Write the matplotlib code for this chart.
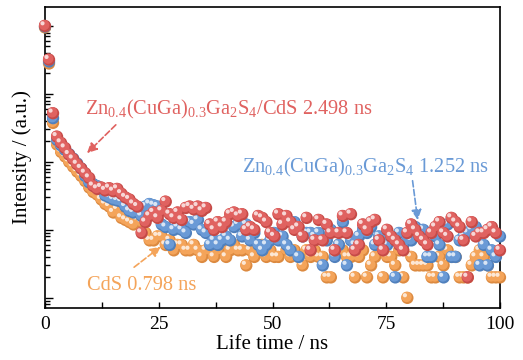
import numpy as np
import matplotlib
matplotlib.use('Agg')
import matplotlib.pyplot as plt
from matplotlib import transforms
from matplotlib.ticker import LogLocator, MultipleLocator, NullFormatter

plt.rcParams['font.family'] = ['Liberation Serif', 'DejaVu Serif']
plt.rcParams['mathtext.fontset'] = 'custom'
plt.rcParams['mathtext.rm'] = 'Liberation Serif'
plt.rcParams['mathtext.it'] = 'Liberation Serif:italic'

# 时间轴 (ns)
time_ns = np.linspace(0, 100, 114)

# 荧光衰减计数
red_counts = [10000, 3200, 520, 235, 190, 160, 128, 110, 92, 80,
              68, 58, 44, 40, 42, 38, 41, 37, 40, 34,
              30, 28, 24, 22, 9, 13, 16, 18, 15, 19,
              26, 17, 15, 18, 14, 21, 22, 20, 22, 19,
              21, 12, 10, 13, 11, 13, 17, 18, 16, 17,
              10, 11, 10, 16, 15, 13, 9, 8, 17, 12,
              16, 13, 10, 11, 8, 15, 5, 7, 14, 7,
              12, 9, 5, 9, 16, 9, 17, 5, 6, 12,
              10, 13, 14, 7, 5, 10, 8, 7, 6, 5,
              9, 12, 10, 8, 7, 6, 9, 11, 13, 9,
              8, 15, 13, 11, 7, 2, 13, 8, 9, 9,
              10, 11, 9, 5]
blue_counts = [9800, 3000, 440, 210, 175, 150, 130, 112, 95, 80,
               62, 50, 47, 44, 40, 32, 30, 28, 27, 26,
               22, 19, 18, 20, 16, 22, 24, 23, 22, 12,
               11, 6, 10, 11, 10, 9, 13, 12, 14, 10,
               9, 6, 7, 6, 7, 8, 7, 11, 12, 8,
               12, 7, 9, 6, 5, 6, 7, 9, 7, 8,
               6, 5, 13, 4, 8, 9, 9, 8, 9, 3,
               7, 10, 4, 6, 13, 3, 7, 6, 8, 10,
               9, 11, 6, 8, 7, 6, 7, 2, 9, 6,
               8, 7, 11, 9, 10, 4, 4, 8, 6, 2,
               12, 4, 4, 7, 8, 9, 10, 11, 3, 6,
               3, 5, 4, 8]
orange_counts = [9500, 2800, 375, 180, 140, 120, 100, 85, 72, 62,
                 52, 42, 36, 33, 28, 24, 22, 18, 20, 15,
                 14, 13, 12, 14, 13, 9, 7, 7, 8, 8,
                 6, 7, 5, 6, 6, 5, 5, 6, 5, 4,
                 5, 5, 4, 5, 6, 4, 5, 6, 5, 5,
                 3, 5, 4, 5, 6, 4, 5, 4, 4, 7,
                 5, 4, 5, 4, 3, 5, 4, 5, 4, 4,
                 2, 2, 5, 6, 5, 4, 4, 2, 4, 5,
                 2, 3, 4, 5, 2, 4, 4, 3, 5, 2,
                 1, 4, 3, 3, 3, 3, 2, 2, 4, 3,
                 5, 4, 4, 2, 2, 2, 3, 4, 5, 4,
                 3, 2, 2, 2]

red = '#E06260'
blue = '#6A9AD6'
orange = '#F4A45A'
series = [(orange_counts, orange, '#DC8A40'),
          (blue_counts, blue, '#5080BC'),
          (red_counts, red, '#C54A47')]

fig = plt.figure(figsize=(5.23, 3.6), dpi=100)
ax = fig.add_axes([45 / 523, 1 - 308 / 360, 455 / 523, 301 / 360])

# 球形标记: 暗色底 + 主色 + 高光
shift_mid = transforms.offset_copy(ax.transData, fig=fig, x=-0.6, y=0.7, units='points')
shift_hi = transforms.offset_copy(ax.transData, fig=fig, x=-1.8, y=1.9, units='points')
for counts, c, dark in series:
    ax.scatter(time_ns, counts, s=78, color=dark, edgecolors='none', clip_on=False, zorder=3)
    ax.scatter(time_ns, counts, s=56, color=c, edgecolors='none', clip_on=False, zorder=3,
               transform=shift_mid)
    ax.scatter(time_ns, counts, s=9, color='white', alpha=0.75, edgecolors='none', clip_on=False,
               zorder=3, transform=shift_hi)

ax.set_yscale('log')
ax.set_xlim(0, 100)
ax.set_ylim(0.71, 1.9e4)
ax.xaxis.set_major_locator(MultipleLocator(25))
ax.xaxis.set_minor_locator(MultipleLocator(12.5))
ax.yaxis.set_major_locator(LogLocator(base=10, numticks=10))
ax.yaxis.set_minor_locator(LogLocator(base=10, subs=np.arange(2, 10), numticks=20))
ax.yaxis.set_major_formatter(NullFormatter())
ax.yaxis.set_minor_formatter(NullFormatter())
ax.tick_params(axis='x', which='both', direction='in', length=4, width=1, labelsize=14, pad=6)
ax.tick_params(axis='y', which='major', direction='in', length=6, width=1)
ax.tick_params(axis='y', which='minor', direction='in', length=3.5, width=1)
for sp in ax.spines.values():
    sp.set_linewidth(1.2)

ax.set_xlabel('Life time / ns', fontsize=15, labelpad=1)
ax.set_ylabel('Intensity / (a.u.)', fontsize=15, labelpad=6)

# 标注
ax.text(8.8, 491, r'Zn$_{\mathrm{0.4}}$(CuGa)$_{\mathrm{0.3}}$Ga$_{\mathrm{2}}$S$_{\mathrm{4}}$/CdS 2.498 ns',
        color=red, fontsize=14.7, ha='left', va='baseline')
ax.text(43.3, 71, r'Zn$_{\mathrm{0.4}}$(CuGa)$_{\mathrm{0.3}}$Ga$_{\mathrm{2}}$S$_{\mathrm{4}}$ 1.252 ns',
        color=blue, fontsize=14.7, ha='left', va='baseline')
ax.text(9.2, 1.31, 'CdS 0.798 ns', color=orange, fontsize=14.7, ha='left', va='baseline')

arrow_kw = dict(arrowstyle='-|>', linestyle='--', lw=1.2, mutation_scale=15)
ax.annotate('', xy=(8.8, 126), xytext=(16.0, 375), arrowprops=dict(color=red, **arrow_kw), zorder=5)
ax.annotate('', xy=(82.0, 12.7), xytext=(80.7, 58), arrowprops=dict(color=blue, **arrow_kw), zorder=5)
ax.annotate('', xy=(25.9, 6.0), xytext=(19.1, 2.67), arrowprops=dict(color=orange, **arrow_kw), zorder=5)

fig.savefig('out.png', dpi=100)
